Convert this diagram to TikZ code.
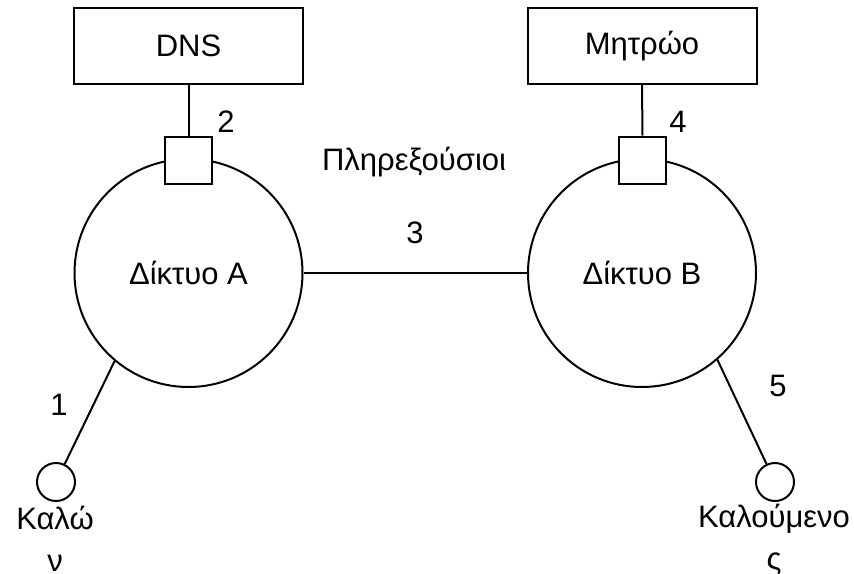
\documentclass[tikz,border=0pt]{standalone}
\usepackage{fontspec}
\setmainfont{Liberation Sans}
\begin{document}
\begin{tikzpicture}[x=1pt,y=-1pt, line width=2pt,
  lbl/.style={font=\fontsize{31}{42}\selectfont, inner sep=0pt, align=center},
  box/.style={draw, minimum width=229pt, minimum height=76pt, inner sep=0pt, font=\fontsize{31}{36}\selectfont},
  sq/.style={draw, fill=white, minimum size=47pt, inner sep=0pt},
  net/.style={draw, circle, minimum size=228pt, inner sep=0pt, font=\fontsize{31}{36}\selectfont},
  term/.style={draw, circle, minimum size=38pt, inner sep=0pt}]
\useasboundingbox (0,0) rectangle (854,573);
\node[box] (dns) at (188.5,46) {DNS};
\node[box] (reg) at (642,46) {Μητρώο};
\node[net] (netA) at (188.5,273) {Δίκτυο A};
\node[net] (netB) at (642,273) {Δίκτυο B};
\node[sq] (sqA) at (188.5,160) {};
\node[sq] (sqB) at (642.5,160) {};
\node[term] (termA) at (56,482) {};
\node[term] (termB) at (775,482) {};
\draw (dns.south) -- (sqA.north);
\draw (reg.south) -- (sqB.north);
\draw (netA.east) -- (netB.west);
\draw (netA.230) -- (termA);
\draw (netB.311) -- (termB);
\node[lbl] (l1) at (59,405) {1};
\node[lbl] (l2) at (226,122) {2};
\node[lbl] (l3) at (415,233) {3};
\node[lbl] (l4) at (678,122) {4};
\node[lbl] (l5) at (778,386) {5};
\node[lbl] (prox) at (414,162) {Πληρεξούσιοι};
\node[lbl] (caller) at (55,539) {Καλώ\\ν};
\node[lbl] (callee) at (774,539) {Καλούμενο\\ς};
\end{tikzpicture}
\end{document}
